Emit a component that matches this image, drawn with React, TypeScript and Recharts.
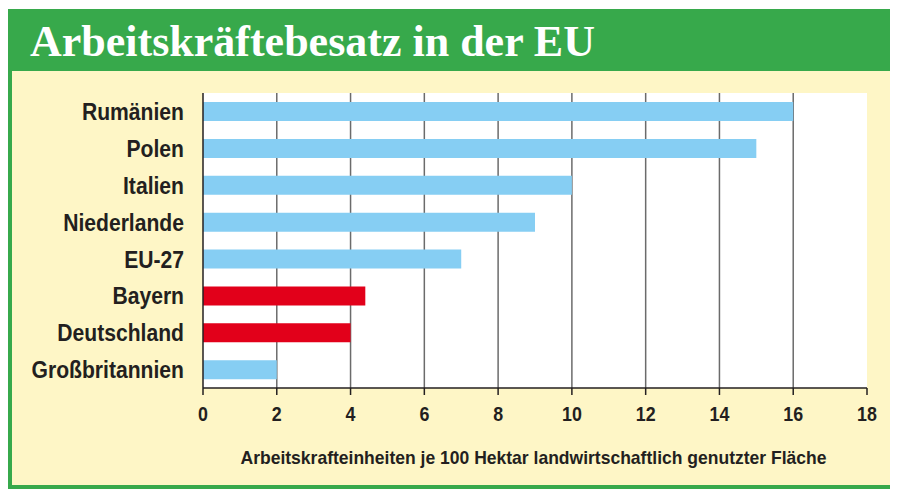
import React from "react";
import { BarChart, Bar, XAxis, YAxis, CartesianGrid, Cell, Label } from "recharts";

const countries = [
  "Rumänien",
  "Polen",
  "Italien",
  "Niederlande",
  "EU-27",
  "Bayern",
  "Deutschland",
  "Großbritannien",
];
const values = [16, 15, 10, 9, 7, 4.4, 4, 2];
const highlighted = ["Bayern", "Deutschland"];
const xTicks = [0, 2, 4, 6, 8, 10, 12, 14, 16, 18];
const gridValues = [2, 4, 6, 8, 10, 12, 14, 16];

const title = "Arbeitskräftebesatz in der EU";
const axisTitle = "Arbeitskrafteinheiten je 100 Hektar landwirtschaftlich genutzter Fläche";

const green = "#37a94b";
const cream = "#fef6c6";
const blue = "#86cef3";
const red = "#e2001a";
const ink = "#231f20";
const sans = "'Liberation Sans', Arial, sans-serif";

const data = countries.map((c, i) => ({ name: c, value: values[i] }));

// condensed labels: the original uses a narrow bold grotesque
const CountryTick = ({ x, y, payload }: any) => (
  <g transform={`translate(${x},${y})`}>
    <text
      transform="scale(0.88,1)"
      textAnchor="end"
      dy="0.36em"
      fill={ink}
      fontSize={24}
      fontWeight={700}
      fontFamily={sans}
    >
      {payload.value}
    </text>
  </g>
);

const NumTick = ({ x, y, payload }: any) => (
  <g transform={`translate(${x},${y})`}>
    <text
      transform="scale(0.85,1)"
      textAnchor="middle"
      dy="0.72em"
      fill={ink}
      fontSize={21}
      fontWeight={700}
      fontFamily={sans}
    >
      {payload.value}
    </text>
  </g>
);

const AxisTitle = ({ viewBox }: any) => {
  const cx = viewBox.x + viewBox.width / 2 - 1.5;
  return (
    <text
      x={cx}
      y={viewBox.y + 76}
      textAnchor="middle"
      textLength={586}
      lengthAdjust="spacingAndGlyphs"
      fill={ink}
      fontSize={19}
      fontWeight={700}
      fontFamily={sans}
    >
      {axisTitle}
    </text>
  );
};

export default function App() {
  return (
    <div
      style={{
        position: "relative",
        width: 889,
        height: 480,
        marginTop: 1,
        background: green,
      }}
    >
      <div
        style={{
          position: "absolute",
          left: 22,
          top: 4,
          fontFamily: "'Liberation Serif', 'Times New Roman', serif",
          fontWeight: 700,
          fontSize: 44,
          color: "#fff",
          lineHeight: "58px",
          whiteSpace: "nowrap",
        }}
      >
        {title}
      </div>
      <div
        style={{
          position: "absolute",
          left: 4,
          top: 62,
          width: 882,
          height: 414,
          background: cream,
        }}
      />
      <div style={{ position: "absolute", left: 0, top: 0 }}>
        <BarChart
          width={889}
          height={480}
          data={data}
          layout="vertical"
          margin={{ top: 84, right: 30, left: 0, bottom: 16 }}
          barSize={19}
        >
          <CartesianGrid
            fill="#ffffff"
            horizontal={false}
            vertical
            verticalValues={gridValues}
            stroke="#6b6b6b"
            strokeWidth={1.5}
          />
          <YAxis
            type="category"
            dataKey="name"
            width={195}
            tickLine={false}
            tickSize={0}
            tickMargin={19}
            axisLine={{ stroke: ink, strokeWidth: 1.5 }}
            tick={<CountryTick />}
            interval={0}
          />
          <XAxis
            type="number"
            domain={[0, 18]}
            ticks={xTicks}
            height={85}
            tickSize={7}
            tickMargin={11}
            axisLine={{ stroke: ink, strokeWidth: 1.5 }}
            tickLine={{ stroke: ink, strokeWidth: 1.5 }}
            tick={<NumTick />}
            interval={0}
          >
            <Label content={<AxisTitle />} />
          </XAxis>
          <Bar dataKey="value" isAnimationActive={false}>
            {data.map((d) => (
              <Cell key={d.name} fill={highlighted.includes(d.name) ? red : blue} />
            ))}
          </Bar>
        </BarChart>
      </div>
    </div>
  );
}
